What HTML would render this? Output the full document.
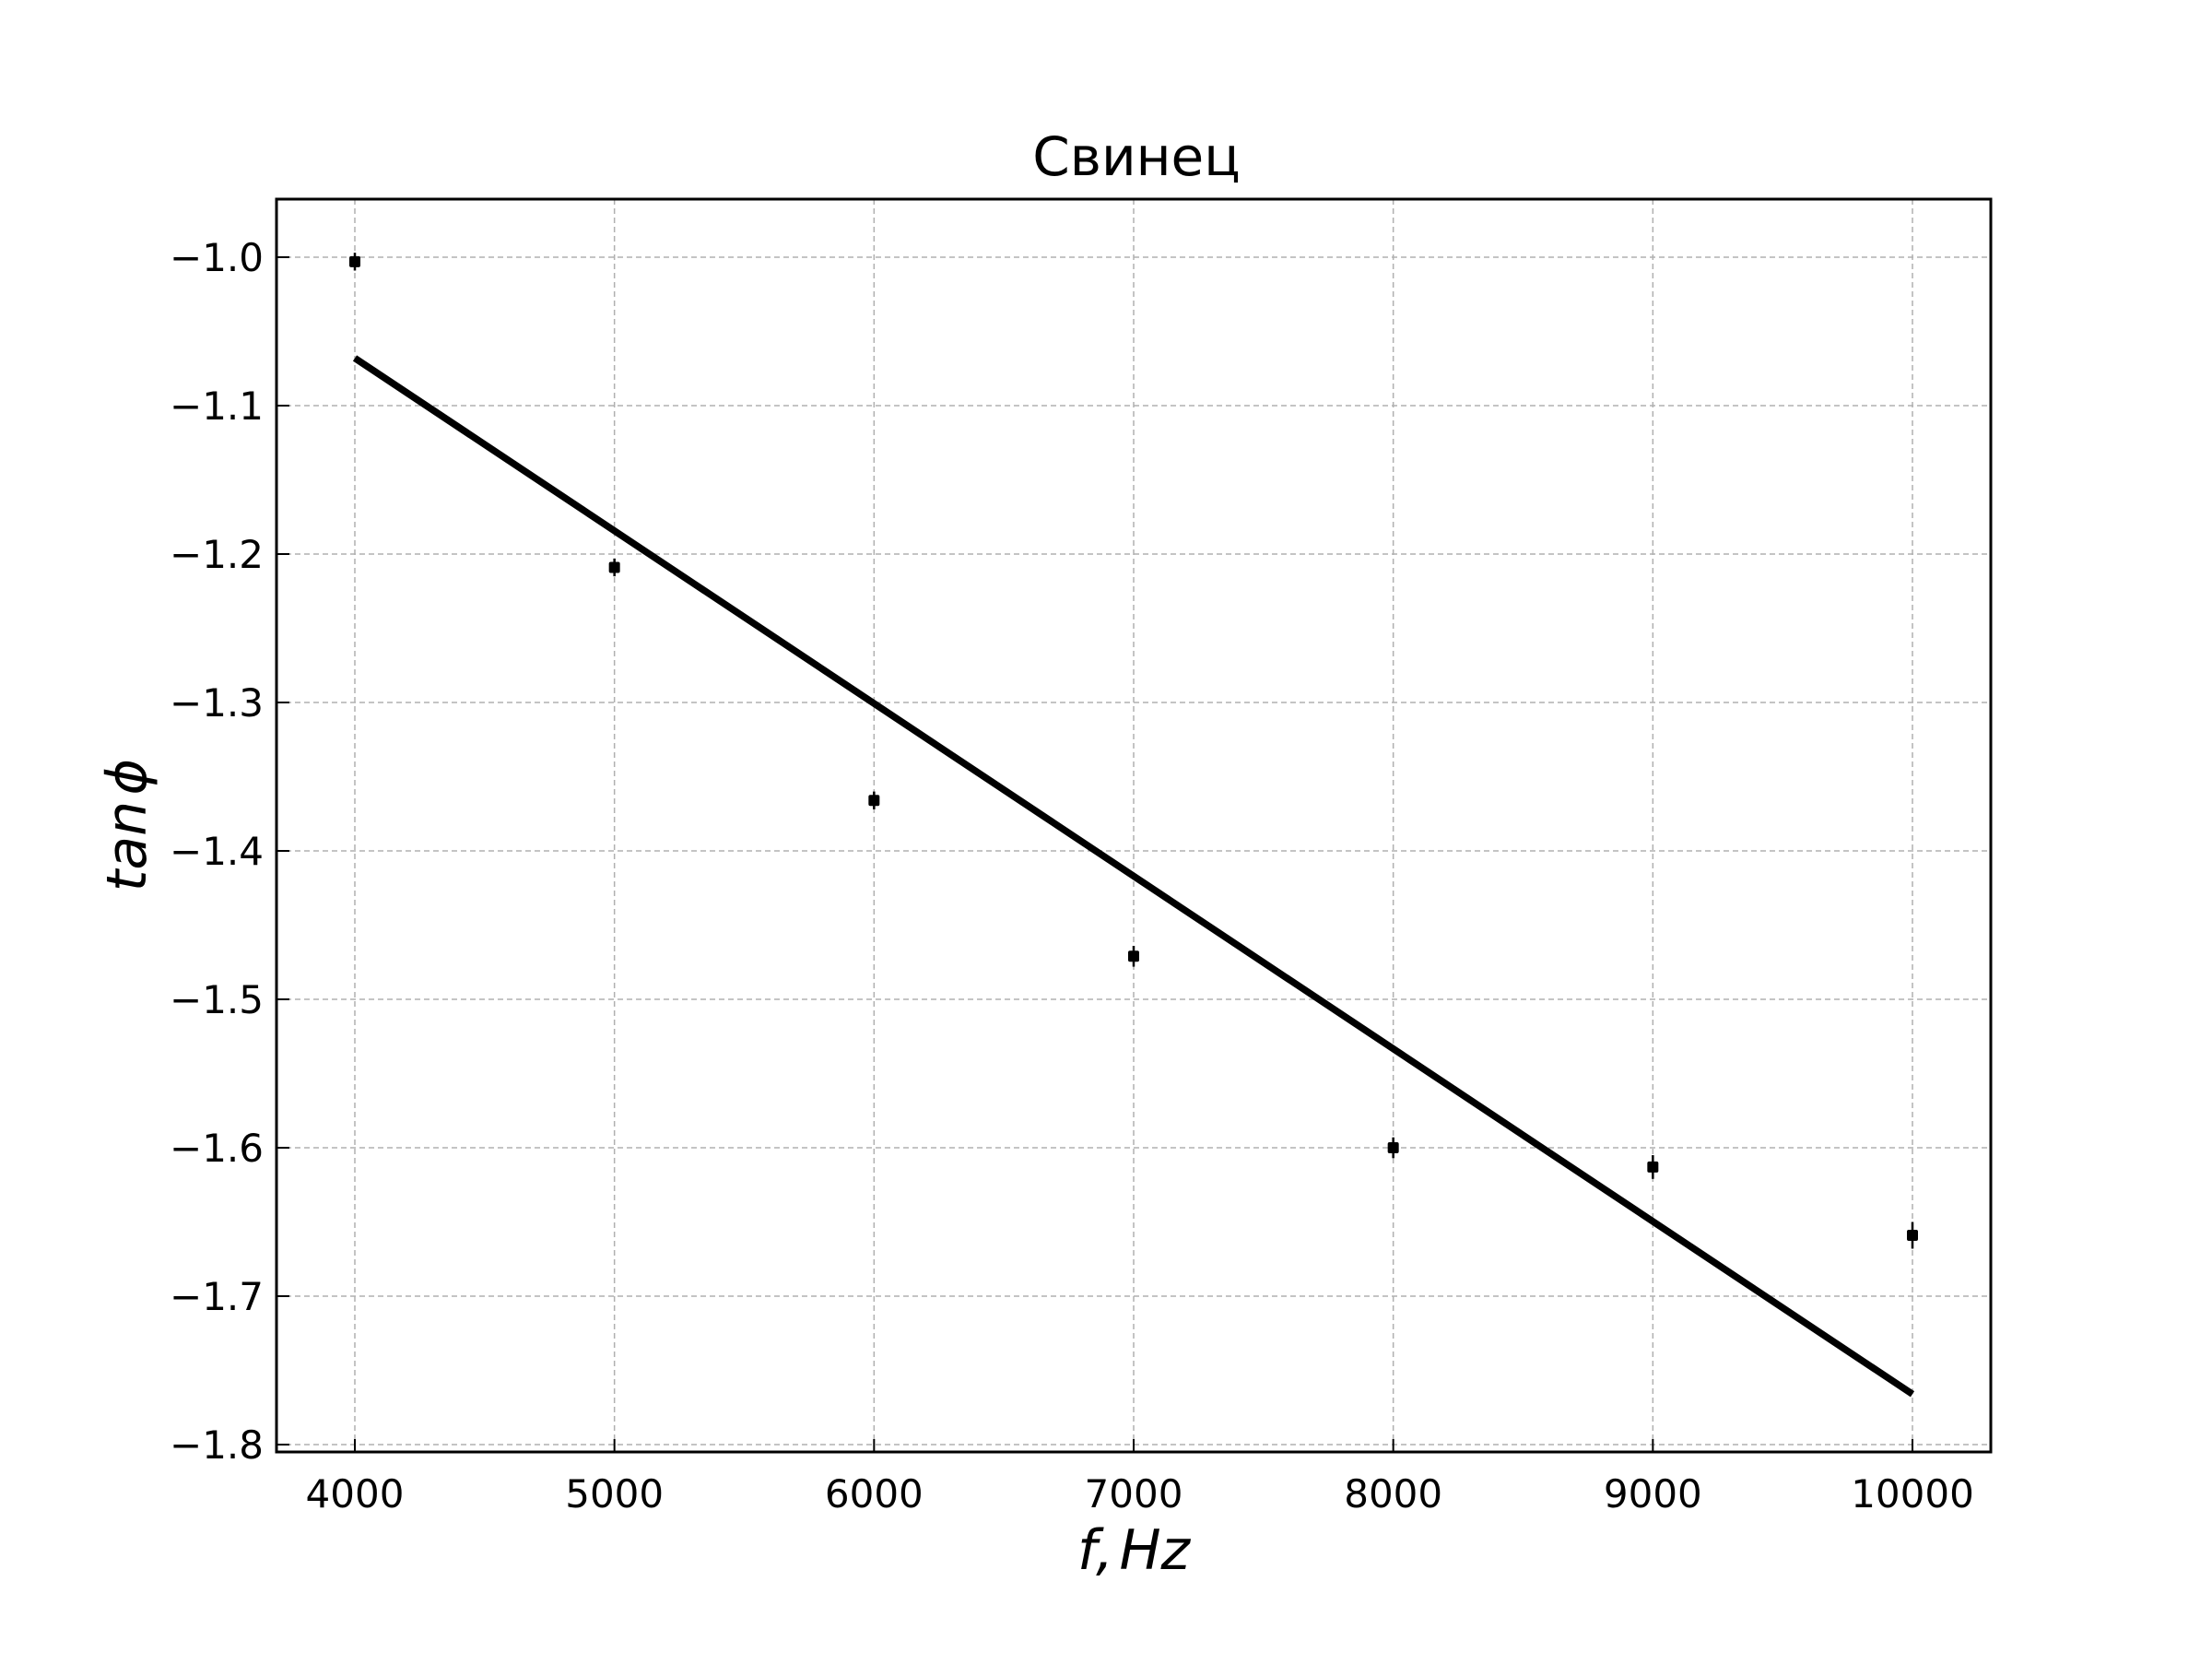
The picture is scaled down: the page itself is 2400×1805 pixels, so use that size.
<!DOCTYPE html>
<html><head><meta charset="utf-8"><style>
html,body{margin:0;padding:0;background:#fff}
svg text{font-family:"DejaVu Sans","Liberation Sans",sans-serif}
</style></head><body>
<svg id="chart" width="2400" height="1800" viewBox="0 0 2400 1800" xmlns="http://www.w3.org/2000/svg">
<rect x="0" y="0" width="2400" height="1800" fill="#fff"/>
<text x="1233" y="190" font-size="58" text-anchor="middle">Свинец</text>
<g id="grid"></g>
<g id="ticks"></g>
<g id="marks"></g>
<rect x="300" y="216" width="1860" height="1359" fill="none" stroke="#000" stroke-width="3"/>
<text x="1230" y="1702" font-size="60" font-style="italic" text-anchor="middle">f,<tspan font-size="20"> </tspan>Hz</text>
<text transform="translate(158,895) rotate(-90)" font-size="60" font-style="italic" text-anchor="middle">tan<tspan font-size="20"> </tspan>ϕ</text>
</svg>
<script>
const freqs = [4000, 5000, 6000, 7000, 8000, 9000, 10000];
const tanPhi = [-1.003, -1.209, -1.366, -1.471, -1.600, -1.613, -1.659];
const tanErr = [0.006, 0.006, 0.006, 0.007, 0.007, 0.008, 0.009];
const fitX = [4000, 10000];
const fitY = [-1.068, -1.766];
const xTicks = [4000, 5000, 6000, 7000, 8000, 9000, 10000];
const yTicks = [-1.0, -1.1, -1.2, -1.3, -1.4, -1.5, -1.6, -1.7, -1.8];

const L=300,R=2160,T=216,B=1575;
function xs(v){return 385 + (v-4000)*(2075-385)/6000;}
function ys(v){return 279 + (v-(-1.0))*(1567-279)/(-0.8);}
const NS='http://www.w3.org/2000/svg';
function mk(tag,attrs,parent){const e=document.createElementNS(NS,tag);for(const k in attrs)e.setAttribute(k,attrs[k]);parent.appendChild(e);return e;}
const grid=document.getElementById('grid'),ticks=document.getElementById('ticks'),marks=document.getElementById('marks');
xTicks.forEach(v=>{
  const x=xs(v);
  const g=mk('line',{x1:x,x2:x,y1:T,y2:B,stroke:'#b0b0b0','stroke-width':1.5,'stroke-dasharray':'6,4'},grid);
  
  
  const t=mk('line',{x1:x,x2:x,y1:B,y2:B-14,stroke:'#000','stroke-width':2},ticks);
  
  
  const lb=mk('text',{x:x,y:B+60,'font-size':42,'text-anchor':'middle'},ticks);
  lb.textContent=String(v);
  
  
});
yTicks.forEach(v=>{
  const y=ys(v);
  const g=mk('line',{x1:L,x2:R,y1:y,y2:y,stroke:'#b0b0b0','stroke-width':1.5,'stroke-dasharray':'6,4'},grid);
  
  
  const t=mk('line',{x1:L,x2:L+14,y1:y,y2:y,stroke:'#000','stroke-width':2},ticks);
  
  
  const lb=mk('text',{x:L-14,y:y+15,'font-size':42,'text-anchor':'end'},ticks);
  lb.textContent='−'+Math.abs(v).toFixed(1);
  
  
});
const fit=mk('line',{x1:xs(fitX[0]),y1:ys(fitY[0]),x2:xs(fitX[1]),y2:ys(fitY[1]),stroke:'#000','stroke-width':7.5},marks);


freqs.forEach((f,i)=>{
  const x=xs(f),y=ys(tanPhi[i]);
  const e=mk('line',{x1:x,x2:x,y1:ys(tanPhi[i]+tanErr[i]),y2:ys(tanPhi[i]-tanErr[i]),stroke:'#000','stroke-width':2.5},marks);
  
  
  const p=mk('rect',{x:x-6,y:y-6,width:12,height:12,rx:2,fill:'#000'},marks);
  
  
});
</script>
</body></html>
